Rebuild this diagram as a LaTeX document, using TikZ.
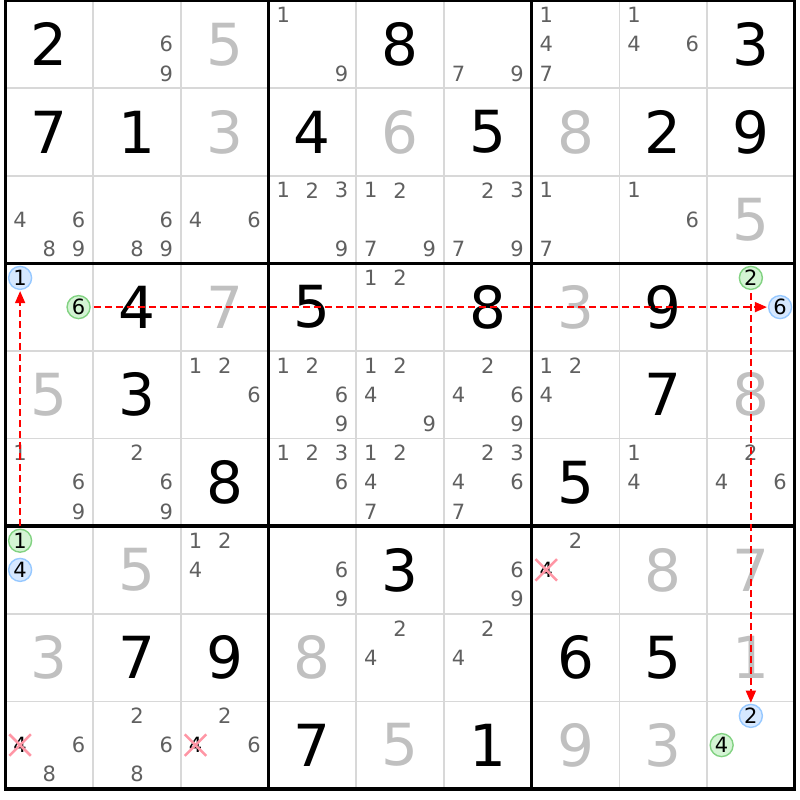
\documentclass[tikz,border=0pt]{standalone}
\usepackage{fontspec}
\setmainfont{DejaVu Sans}
\usetikzlibrary{arrows.meta,shapes.misc}
\definecolor{solvedgray}{RGB}{192,192,192}
\definecolor{candgray}{RGB}{96,96,96}
\definecolor{gridgray}{RGB}{216,216,216}
\definecolor{onblue}{RGB}{150,200,255}
\definecolor{onbluefill}{RGB}{214,232,255}
\definecolor{ongreen}{RGB}{130,210,130}
\definecolor{ongreenfill}{RGB}{212,244,212}
\definecolor{crosspink}{RGB}{255,150,165}

\begin{document}
\begin{tikzpicture}[x=29.23pt,y=-29.2pt,
  given/.style={inner sep=0pt,font=\fontsize{58}{58}\selectfont},
  solved/.style={given,text=solvedgray},
  cand/.style={inner sep=0pt,text=candgray,font=\fontsize{21}{21}\selectfont},
  blue mark/.style={cand,text=black,circle,minimum size=23pt,line width=1.4pt,draw=onblue,fill=onbluefill},
  green mark/.style={blue mark,draw=ongreen,fill=ongreenfill},
  gone/.style={cand,text=black,cross out,minimum size=19pt,line width=2.5pt,draw=crosspink},
  link/.style={draw=red,line width=1.5pt,dash pattern=on 7pt off 4pt,
    -{Triangle[length=12pt,width=10pt]},shorten >=1pt,shorten <=3pt}]

  \useasboundingbox (-5.5pt,0.5pt) rectangle (794.5pt,-799.5pt);

  \foreach \i in {1,...,8}
    \draw[gridgray,line width=1.6pt] (3*\i,0) -- (3*\i,27) (0,3*\i) -- (27,3*\i);
  \foreach \i in {0,3,6,9}
    \draw[line width=3.5pt,line cap=rect] (3*\i,0) -- (3*\i,27) (0,3*\i) -- (27,3*\i);

  \foreach \r/\c/\d in {0/0/2,0/4/8,0/8/3,1/0/7,1/1/1,1/3/4,1/5/5,1/7/2,1/8/9,
      3/1/4,3/3/5,3/5/8,3/7/9,4/1/3,4/7/7,5/2/8,5/6/5,6/4/3,
      7/1/7,7/2/9,7/6/6,7/7/5,8/3/7,8/5/1}
    \node[given] (d-\r-\c) at (3*\c+1.5,3*\r+1.5) {\d};
  \foreach \r/\c/\d in {0/2/5,1/2/3,1/4/6,1/6/8,2/8/5,3/2/7,3/6/3,4/0/5,4/8/8,
      6/1/5,6/7/8,6/8/7,7/0/3,7/3/8,7/8/1,8/4/5,8/6/9,8/7/3}
    \node[solved] (d-\r-\c) at (3*\c+1.5,3*\r+1.5) {\d};

  \foreach \r/\c/\ds in {0/1/{6,9},0/3/{1,9},0/5/{7,9},0/6/{1,4,7},0/7/{1,4,6},
      2/0/{4,6,8,9},2/1/{6,8,9},2/2/{4,6},2/3/{1,2,3,9},2/4/{1,2,7,9},2/5/{2,3,7,9},2/6/{1,7},2/7/{1,6},
      3/4/{1,2},
      4/2/{1,2,6},4/3/{1,2,6,9},4/4/{1,2,4,9},4/5/{2,4,6,9},4/6/{1,2,4},
      5/0/{1,6,9},5/1/{2,6,9},5/3/{1,2,3,6},5/4/{1,2,4,7},5/5/{2,3,4,6,7},5/7/{1,4},5/8/{2,4,6},
      6/2/{1,2,4},6/3/{6,9},6/5/{6,9},6/6/{2},
      7/4/{2,4},7/5/{2,4},
      8/0/{6,8},8/1/{2,6,8},8/2/{2,6}}
    \foreach \d in \ds {
      \pgfmathtruncatemacro\pc{mod(\d-1,3)}
      \pgfmathtruncatemacro\pr{(\d-1)/3}
      \node[cand] (n-\r-\c-\d) at (3*\c+\pc+.5,3*\r+\pr+.5) {\d};
    }

  \node[gone] (x-6-6-4) at (18.5,19.5) {4};
  \node[gone] (x-8-0-4) at (0.5,25.5) {4};
  \node[gone] (x-8-2-4) at (6.5,25.5) {4};

  \node[blue mark] (b-3-0-1) at (0.5,9.5) {1};
  \node[green mark] (g-3-0-6) at (2.5,10.5) {6};
  \node[green mark] (g-3-8-2) at (25.5,9.5) {2};
  \node[blue mark] (b-3-8-6) at (26.5,10.5) {6};
  \node[green mark] (g-6-0-1) at (0.5,18.5) {1};
  \node[blue mark] (b-6-0-4) at (0.5,19.5) {4};
  \node[blue mark] (b-8-8-2) at (25.5,24.5) {2};
  \node[green mark] (g-8-8-4) at (24.5,25.5) {4};

  \draw[link] (g-3-0-6) -- (b-3-8-6);
  \draw[link] (g-3-8-2) -- (b-8-8-2);
  \draw[link] (g-6-0-1) -- (b-3-0-1);
\end{tikzpicture}
\end{document}
